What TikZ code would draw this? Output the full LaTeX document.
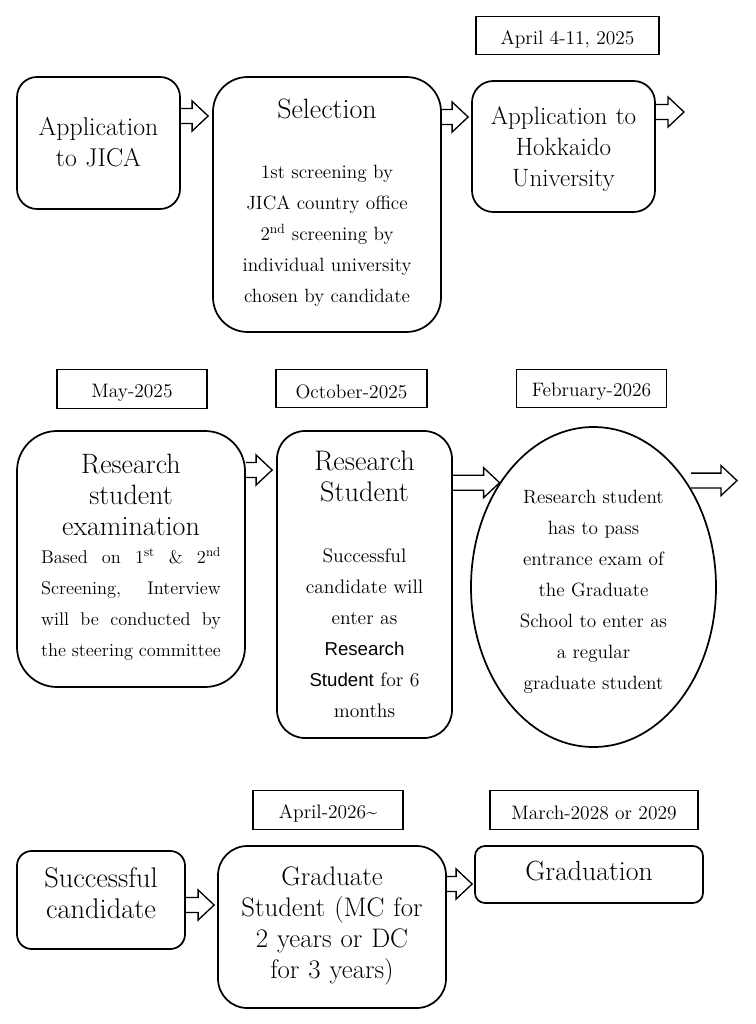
\documentclass[tikz,border=0pt]{standalone}
\usepackage{fontspec}
\setsansfont{Liberation Sans}
\usetikzlibrary{calc,shapes.geometric}
\begin{document}
\begin{tikzpicture}[x=0.75pt,y=-0.75pt,
  rbox/.style={draw, line width=1.3pt, rounded corners=#1, inner sep=0pt},
  datebox/.style={draw, line width=1pt, inner sep=0pt},
  datetxt/.style={font=\fontsize{14.6}{16}\selectfont, inner sep=0pt},
  ttl/.style={font=\fontsize{#1}{23.25}\selectfont, align=center, text width=220pt, anchor=mid, inner sep=0pt, yshift=-3.75pt},
  bdy/.style={font=\fontsize{#1}{23.25}\selectfont, align=center, text width=200pt, anchor=mid, inner sep=0pt, yshift=-2.6pt},
  barrow/.style={draw, line width=1pt, line join=miter,
    to path={let \p1=(\tikztostart), \p2=(\tikztotarget) in
      (\x1,\y1+5.6pt) -- (\x2-12pt,\y1+5.6pt) -- (\x2-12pt,\y1+11.25pt) -- (\x2,\y1)
      -- (\x2-12pt,\y1-11.25pt) -- (\x2-12pt,\y1-5.6pt) -- (\x1,\y1-5.6pt)}}
]
\useasboundingbox (0,0) rectangle (756,1024);

% ---- row 1 ----
\node[rbox=15pt, minimum width=122.25pt, minimum height=99pt] (A) at (98.5,143) {};
\node[rbox=26pt, minimum width=171pt, minimum height=191.25pt] (B) at (327,204.5) {};
\node[rbox=16pt, minimum width=137.25pt, minimum height=98.25pt] (C) at (563.5,146.5) {};
\node[datebox, minimum width=137.25pt, minimum height=28.5pt] (d1) at (567.5,35.5) {};
\node[datetxt] (td1) at (567.5,39.5) {April 4-11, 2025};

\node[ttl=19.3] (tA) at (98.5,128) {Application\\to JICA};
\node[ttl=21] (tB1) at (327,111) {Selection};
\node[bdy=14.4] (tB2) at (327,172) {1st screening by\\JICA country office\\2\textsuperscript{nd} screening by\\individual university\\chosen by candidate};
\node[ttl=18.8] (tC) at (563.5,117) {Application to\\Hokkaido\\University};

% ---- row 2 ----
\node[datebox, minimum width=112.5pt, minimum height=29.25pt] (d2) at (132,389) {};
\node[datebox, minimum width=113.25pt, minimum height=28.5pt] (d3) at (351.5,388.5) {};
\node[datebox, minimum width=112.5pt, minimum height=28.5pt] (d4) at (591.5,388.5) {};
\node[datetxt] (td2) at (132,393) {May-2025};
\node[datetxt] (td3) at (351.5,392) {October-2025};
\node[datetxt] (td4) at (591.5,392) {February-2026};

\node[rbox=30pt, minimum width=171pt, minimum height=192pt] (D) at (131,559) {};
\node[rbox=21pt, minimum width=131.25pt, minimum height=230.25pt] (E) at (364.5,584.5) {};
\node[draw, ellipse, line width=1.3pt, inner sep=0pt, minimum width=183.75pt, minimum height=240pt] (F) at (593.5,587) {};

\node[ttl=21] (tD1) at (131,466) {Research\\student\\examination};
\node[bdy=13.8] (tD2) at (131,557)
  {\makebox[135pt][s]{Based\hfill on\hfill 1\textsuperscript{st}\hfill\&\hfill 2\textsuperscript{nd}}\\
   \makebox[135pt][s]{Screening,\hfill Interview}\\
   \makebox[135pt][s]{will\hfill be\hfill conducted\hfill by}\\
   \makebox[135pt][s]{the\hfill steering\hfill committee}};
\node[ttl=21.2] (tE1) at (364.5,463) {Research\\Student};
\node[bdy=14.7] (tE2) at (364.5,556) {Successful\\candidate will\\enter as\\{\sffamily\fontsize{14}{23.25}\selectfont Research}\\{\sffamily\fontsize{14}{23.25}\selectfont Student} for 6\\months};
\node[bdy=14.4] (tF) at (593.5,497) {Research student\\has to pass\\entrance exam of\\the Graduate\\School to enter as\\a regular\\graduate student};

% ---- row 3 ----
\node[datebox, minimum width=112.5pt, minimum height=29.25pt] (d5) at (328,810) {};
\node[datebox, minimum width=156pt, minimum height=29.25pt] (d6) at (594,810) {};
\node[datetxt] (td5) at (328,813) {April-2026\textasciitilde};
\node[datetxt] (td6) at (594,813) {March-2028 or 2029};

\node[rbox=11pt, minimum width=126pt, minimum height=73.5pt] (G) at (101,900) {};
\node[rbox=22pt, minimum width=171pt, minimum height=121.5pt] (H) at (332,927) {};
\node[rbox=7.5pt, minimum width=171pt, minimum height=42.75pt] (I) at (589,874.5) {};

\node[ttl=21.3] (tG) at (101,880) {Successful\\candidate};
\node[ttl=20.1] (tH) at (332,878) {Graduate\\Student (MC for\\2 years or DC\\for 3 years)};
\node[ttl=20.8] (tI) at (589,873) {Graduation};

% ---- connectors ----
\coordinate (s1) at (A.east |- 0,116);
\coordinate (e1) at ($(B.west |- 0,116)+(-4,0)$);
\coordinate (s2) at (B.east |- 0,117);
\coordinate (e2) at ($(C.west |- 0,117)+(-3,0)$);
\coordinate (s3) at (C.east |- 0,112);
\coordinate (e3) at (684,112);
\coordinate (s4) at (D.east |- 0,470);
\coordinate (e4) at ($(E.west |- 0,470)+(-4,0)$);
\coordinate (e5) at (F.132);
\coordinate (s5) at (E.east |- e5);
\coordinate (s6) at ($(F.49)+(5,0)$);
\coordinate (e6) at (737,0 |- s6);
\coordinate (s7) at (G.east |- 0,905);
\coordinate (e7) at ($(H.west |- 0,905)+(-3,0)$);
\coordinate (s8) at (H.east |- 0,884);
\coordinate (e8) at ($(I.west |- 0,884)+(-2,0)$);

\draw[barrow] (s1) to (e1);
\draw[barrow] (s2) to (e2);
\draw[barrow] (s3) to (e3);
\draw[barrow] (s4) to (e4);
\draw[barrow] (s5) to (e5);
\draw[barrow] (s6) to (e6);
\draw[barrow] (s7) to (e7);
\draw[barrow] (s8) to (e8);
\end{tikzpicture}
\end{document}
